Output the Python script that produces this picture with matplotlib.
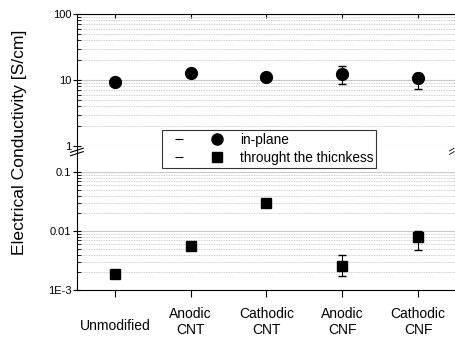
import matplotlib.pyplot as plt
import matplotlib.transforms as mtransforms
from matplotlib.lines import Line2D
from matplotlib.legend_handler import HandlerTuple

plt.rcParams['font.family'] = ['Liberation Sans', 'DejaVu Sans']

categories = ["Unmodified", "Anodic\nCNT", "Cathodic\nCNT", "Anodic\nCNF", "Cathodic\nCNF"]
# in-plane conductivity and error limits
inplane = [9.3, 12.9, 11.2, 12.3, 10.8]
inplane_lo = [9.0, 12.5, 10.8, 8.6, 7.2]
inplane_hi = [9.6, 13.3, 11.6, 16.5, 12.6]
# through-thickness conductivity and error limits
through = [0.0019, 0.0055, 0.030, 0.0026, 0.0079]
through_lo = [0.00185, 0.0053, 0.028, 0.0017, 0.0048]
through_hi = [0.00195, 0.0057, 0.032, 0.0040, 0.0102]

x = list(range(1, len(categories) + 1))

fig = plt.figure(figsize=(4.55, 3.4), dpi=100)
ax1 = fig.add_axes([0.169, 0.5706, 0.833, 0.388])
ax2 = fig.add_axes([0.169, 0.147, 0.833, 0.347])

grid_major = dict(color="#c8c8c8", lw=0.8, ls="-")
grid_minor = dict(color="#c0c0c0", lw=0.6, ls=(0, (1, 1)))

for ax in (ax1, ax2):
    ax.set_yscale("log")
    ax.set_xlim(0.5, 5.5)
    ax.grid(True, which="major", axis="y", **grid_major)
    ax.grid(True, which="minor", axis="y", **grid_minor)
    ax.set_axisbelow(True)
    ax.spines["right"].set_visible(False)
    ax.tick_params(axis="y", which="major", direction="inout", length=6, width=0.8, labelsize=8, pad=1)
    ax.tick_params(axis="y", which="minor", direction="in", length=3, width=0.6)
    ax.yaxis.set_minor_formatter(plt.NullFormatter())

ax1.set_ylim(1, 100)
ax1.set_yticks([1, 10, 100])
ax1.set_yticklabels(["1", "10", "100"])
ax1.spines["bottom"].set_visible(False)
ax1.set_xticks(x)
ax1.tick_params(axis="x", which="both", bottom=False, labelbottom=False, top=True,
                direction="in", length=3, width=0.8)

ax2.set_ylim(0.001, 0.1)
ax2.set_yticks([0.001, 0.01, 0.1])
ax2.set_yticklabels(["1E-3", "0.01", "0.1"])
ax2.spines["top"].set_visible(False)
ax2.set_xticks(x)
ax2.set_xticklabels(categories, fontsize=10, linespacing=1.25)
ax2.tick_params(axis="x", direction="out", length=5, width=0.8, pad=7)

for ax in (ax1, ax2):
    ax.tick_params(axis="x", which="minor", bottom=False, top=False)

# single-line label sits between the two text rows
lab0 = ax2.get_xticklabels()[0]
lab0.set_transform(lab0.get_transform() + mtransforms.ScaledTranslation(0, -9 / 72, fig.dpi_scale_trans))

err_in = [[v - l for v, l in zip(inplane, inplane_lo)], [h - v for v, h in zip(inplane, inplane_hi)]]
err_th = [[v - l for v, l in zip(through, through_lo)], [h - v for v, h in zip(through, through_hi)]]

ax1.errorbar(x, inplane, yerr=err_in, fmt="o", color="black", ms=8.5, ecolor="black",
             elinewidth=0.8, capsize=3.2, capthick=1.0, zorder=3)
ax2.errorbar(x, through, yerr=err_th, fmt="s", color="black", ms=7, ecolor="black",
             elinewidth=0.8, capsize=3.2, capthick=1.0, zorder=3)

# continuous left axis line across the break and break marks
xl = 0.169
fig.add_artist(Line2D([xl, xl], [0.494, 0.5706], color="black", lw=0.8))
for yb in (0.558, 0.548):
    fig.add_artist(Line2D([xl - 0.014, xl + 0.014], [yb - 0.006, yb + 0.006], color="black", lw=0.8))
for yb in (0.560, 0.550):
    fig.add_artist(Line2D([0.988, 0.998], [yb - 0.004, yb + 0.004], color="black", lw=0.6))

dash = Line2D([], [], ls="none", marker="_", color="black", ms=6, mew=0.8)
h1 = (dash, Line2D([], [], ls="none", marker="o", color="black", ms=8))
h2 = (dash, Line2D([], [], ls="none", marker="s", color="black", ms=6.5))
leg = fig.legend([h1, h2], ["in-plane", "throught the thicnkess"],
                 handler_map={tuple: HandlerTuple(ndivide=None, pad=0.74)},
                 loc="upper left", bbox_to_anchor=(0.356, 0.6176), frameon=True,
                 fancybox=False, edgecolor="black", fontsize=9.8, handlelength=4.85,
                 handletextpad=0.66, borderpad=0.2, labelspacing=0.3, borderaxespad=0,
                 numpoints=1)
leg.get_frame().set_linewidth(0.8)

fig.text(0.042, 0.58, "Electrical Conductivity [S/cm]", rotation=90, fontsize=12.6,
         ha="center", va="center")

fig.savefig("out.png", dpi=100)
